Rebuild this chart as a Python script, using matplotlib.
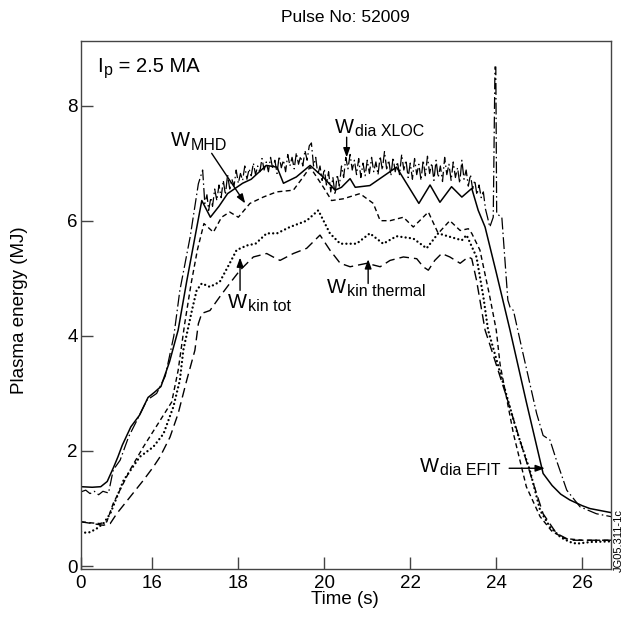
import matplotlib
matplotlib.use("Agg")
import matplotlib.pyplot as plt

plt.rcParams["font.family"] = ["Liberation Sans", "DejaVu Sans"]

# W_dia EFIT (solid)
efit_t = [14.34, 14.6, 14.8, 14.95, 15.1, 15.2, 15.3, 15.5, 15.7, 15.9, 16.05, 16.2,
          16.4, 16.6, 16.8, 17.0, 17.15, 17.35, 17.55, 17.75, 18.1, 18.3, 18.65, 18.9,
          19.05, 19.35, 19.67, 19.97, 20.25, 20.4, 20.6, 20.72, 21.06, 21.68, 22.2,
          22.46, 22.69, 22.96, 23.2, 23.43, 23.58, 23.74, 24.0, 24.32, 24.7, 25.09,
          25.3, 25.5, 25.71, 26.0, 26.18, 26.67]
efit_w = [1.38, 1.37, 1.38, 1.47, 1.72, 1.9, 2.1, 2.42, 2.62, 2.93, 3.02, 3.12,
          3.55, 4.1, 4.95, 5.75, 6.35, 6.06, 6.25, 6.47, 6.65, 6.72, 6.96, 6.93,
          6.65, 6.76, 6.96, 6.76, 6.53, 6.58, 6.73, 6.58, 6.61, 6.93, 6.3,
          6.62, 6.32, 6.59, 6.41, 6.56, 6.18, 5.89, 5.1, 4.1, 2.85, 1.61,
          1.4, 1.25, 1.15, 1.05, 1.0, 0.93]

# W_dia XLOC (dash-dot, noisy)
xloc_t = [14.34, 14.45, 14.55, 14.65, 14.75, 14.85, 14.98, 15.09, 15.25, 15.45, 15.64,
          15.87, 16.1, 16.3, 16.5, 16.64, 16.88, 17.07, 17.17,
          17.22, 17.27, 17.31, 17.36, 17.40, 17.45, 17.50, 17.55, 17.60, 17.65, 17.70,
          17.75, 17.80, 17.85, 17.90, 17.95, 18.00, 18.05, 18.10, 18.15, 18.20, 18.25,
          18.30, 18.35, 18.40, 18.45, 18.50, 18.55, 18.60, 18.65, 18.70, 18.75, 18.80,
          18.85, 18.90, 18.95, 19.00, 19.05, 19.10, 19.15, 19.20, 19.25, 19.30, 19.35,
          19.40, 19.45, 19.50, 19.55, 19.60, 19.65, 19.70, 19.75, 19.80, 19.85, 19.90,
          19.95, 20.00, 20.05, 20.10, 20.15, 20.20, 20.25, 20.30, 20.35, 20.40, 20.45,
          20.50, 20.55, 20.60, 20.65, 20.70, 20.75, 20.80, 20.85, 20.90, 20.95, 21.00,
          21.05, 21.10, 21.15, 21.20, 21.25, 21.30, 21.35, 21.40, 21.45, 21.50, 21.55,
          21.60, 21.65, 21.70, 21.75, 21.80, 21.85, 21.90, 21.95, 22.00, 22.05, 22.10,
          22.15, 22.20, 22.25, 22.30, 22.35, 22.40, 22.45, 22.50, 22.55, 22.60, 22.65,
          22.70, 22.75, 22.80, 22.85, 22.90, 22.95, 23.00, 23.05, 23.10, 23.15, 23.20,
          23.25, 23.30, 23.35, 23.40, 23.45, 23.50, 23.55, 23.60, 23.65, 23.70, 23.75,
          23.80, 23.85, 23.93, 23.97, 23.99, 24.01, 24.13, 24.27, 24.32, 24.40, 24.59,
          24.94, 25.09, 25.25, 25.40, 25.64, 25.95, 26.33, 26.67]
xloc_w = [1.29, 1.32, 1.26, 1.30, 1.24, 1.30, 1.27, 1.67, 1.84, 2.25, 2.53,
          2.88, 3.0, 3.3, 4.0, 4.79, 5.72, 6.64, 6.88,
          6.30, 6.45, 6.18, 6.40, 6.25, 6.55, 6.35, 6.62, 6.40, 6.70, 6.45,
          6.80, 6.55, 6.72, 6.60, 6.88, 6.65, 6.82, 6.70, 6.95, 6.72, 6.90,
          6.78, 7.00, 6.80, 6.95, 6.85, 7.08, 6.88, 7.02, 6.85, 7.10, 6.90,
          7.05, 6.82, 7.12, 6.92, 7.05, 6.85, 7.15, 6.95, 7.10, 6.90, 7.18,
          6.98, 7.12, 6.95, 7.22, 7.05, 7.30, 7.35, 6.95, 7.10, 6.80, 6.95,
          6.70, 6.90, 6.62, 6.85, 6.50, 6.75, 6.45, 6.80, 6.60, 6.95, 6.75,
          7.10, 6.90, 7.15, 6.88, 7.05, 6.80, 7.08, 6.75, 7.00, 6.78, 7.05,
          6.82, 7.10, 6.85, 7.02, 6.80, 7.12, 6.88, 7.20, 6.90, 7.05, 6.78,
          7.10, 6.85, 7.02, 6.80, 7.15, 6.88, 7.05, 6.75, 7.00, 6.72, 7.08,
          6.80, 6.98, 6.70, 7.05, 6.78, 7.12, 6.82, 7.00, 6.70, 7.05, 6.75,
          6.95, 6.68, 7.10, 6.80, 6.98, 6.70, 7.02, 6.75, 6.92, 6.65, 7.05,
          6.72, 6.88, 6.60, 6.80, 6.55, 6.70, 6.45, 6.62, 6.40, 6.50, 6.20,
          6.05, 5.89, 6.06, 8.67, 8.67, 6.12, 6.06, 4.62, 4.50, 4.44, 3.80,
          2.65, 2.27, 2.19, 1.84, 1.32, 1.03, 0.91, 0.86]

# W_MHD (short dash)
mhd_t = [14.34, 14.6, 14.78, 14.94, 15.09, 15.3, 15.48, 15.79, 16.18, 16.45, 16.6,
         16.75, 16.9, 17.05, 17.2, 17.42, 17.61, 17.8, 18.0, 18.27, 18.58, 18.89,
         19.28, 19.51, 19.67, 19.98, 20.17, 20.44, 20.83, 21.14, 21.3, 21.53, 21.84,
         22.07, 22.42, 22.65, 22.92, 23.16, 23.35, 23.43, 23.62, 23.85, 24.0, 24.09,
         24.4, 24.7, 25.02, 25.3, 25.6, 26.0, 26.67]
mhd_w = [0.77, 0.75, 0.74, 0.77, 1.09, 1.4, 1.67, 2.07, 2.53, 2.85, 3.4,
         4.2, 4.9, 5.5, 5.95, 5.8, 6.06, 6.15, 6.06, 6.3, 6.41, 6.5,
         6.53, 6.76, 6.93, 6.58, 6.35, 6.38, 6.47, 6.3, 6.0, 6.0, 6.06,
         5.89, 6.15, 5.78, 6.0, 5.83, 5.86, 5.78, 5.49, 4.68, 4.1, 3.5,
         2.3, 1.38, 0.86, 0.6, 0.48, 0.45, 0.45]

# W_kin tot (dotted)
tot_t = [14.34, 14.45, 14.55, 14.7, 14.86, 15.02, 15.33, 15.71, 16.02, 16.26, 16.49,
         16.64, 16.72, 16.92, 17.03, 17.15, 17.34, 17.57, 17.8, 17.96, 18.2, 18.4,
         18.66, 18.9, 19.2, 19.59, 19.86, 20.13, 20.37, 20.75, 21.06, 21.37, 21.68,
         22.07, 22.38, 22.65, 22.92, 23.2, 23.31, 23.54, 23.7, 23.81, 24.0, 24.47,
         24.78, 25.02, 25.25, 25.5, 25.71, 25.87, 26.2, 26.67]
tot_w = [0.6, 0.58, 0.59, 0.65, 0.74, 0.91, 1.49, 1.9, 2.07, 2.3, 2.77,
         3.23, 3.75, 4.44, 4.79, 4.91, 4.85, 4.94, 5.26, 5.49, 5.57, 5.6,
         5.78, 5.78, 5.89, 6.0, 6.18, 5.78, 5.6, 5.6, 5.78, 5.6, 5.73,
         5.69, 5.52, 5.78, 5.72, 5.66, 5.75, 5.37, 4.68, 4.1, 3.6, 2.36,
         1.67, 0.97, 0.68, 0.5, 0.42, 0.39, 0.42, 0.43]

# W_kin thermal (long dash)
th_t = [14.34, 14.6, 14.86, 15.02, 15.17, 15.48, 15.79, 16.02, 16.18, 16.41, 16.6,
        16.8, 16.99, 17.07, 17.15, 17.34, 17.57, 17.8, 18.04, 18.35, 18.66, 18.81,
        18.97, 19.28, 19.59, 19.9, 20.13, 20.37, 20.6, 20.99, 21.3, 21.53, 21.84,
        22.15, 22.3, 22.42, 22.57, 22.73, 22.92, 23.16, 23.35, 23.43, 23.54, 23.74,
        23.85, 24.24, 24.55, 24.86, 25.09, 25.4, 25.71, 26.67]
th_w = [0.77, 0.74, 0.71, 0.74, 0.91, 1.2, 1.49, 1.72, 1.9, 2.24, 2.65,
        3.23, 3.75, 4.21, 4.39, 4.44, 4.68, 4.91, 5.14, 5.37, 5.43, 5.37,
        5.31, 5.43, 5.52, 5.75, 5.49, 5.26, 5.2, 5.26, 5.2, 5.31, 5.37,
        5.34, 5.2, 5.14, 5.31, 5.43, 5.37, 5.26, 5.37, 5.34, 4.97, 4.1,
        3.85, 2.94, 2.19, 1.44, 0.91, 0.57, 0.45, 0.45]

x_ticks = [14.34, 16, 18, 20, 22, 24, 26]
x_labels = ["0", "16", "18", "20", "22", "24", "26"]
y_ticks = [0, 2, 4, 6, 8]

FS = 14.5
SUB_FS = 11.5


def sub_label(ax, x, y, main, sub, rest=None):
    t = ax.text(x, y, main, fontsize=FS, va="baseline")
    s = ax.annotate(sub, xy=(1, 0), xycoords=t, xytext=(0.8, 0.6),
                    textcoords="offset points", fontsize=SUB_FS, va="baseline")
    if rest is not None:
        ax.annotate(rest, xy=(1, 0), xycoords=(s, t), fontsize=FS, va="bottom")


fig = plt.figure(figsize=(6.24, 6.21), dpi=100)
ax = fig.add_axes([0.1298, 0.0837, 0.8494, 0.8502])

ax.plot(efit_t, efit_w, color="k", lw=1.1)
ax.plot(xloc_t, xloc_w, color="k", lw=0.9, ls=(0, (9.5, 2.5, 1.2, 2.5)))
ax.plot(mhd_t, mhd_w, color="k", lw=1.0, ls=(0, (3.6, 2.4)))
ax.plot(tot_t, tot_w, color="k", lw=1.7, ls=(0, (0.01, 1.8)), dash_capstyle="round")
ax.plot(th_t, th_w, color="k", lw=1.0, ls=(0, (7, 3.6)))

ax.set_xlim(14.34, 26.67)
ax.set_ylim(-0.05, 9.12)
ax.set_xticks(x_ticks)
ax.set_xticklabels(x_labels)
ax.set_yticks(y_ticks)
ax.tick_params(direction="in", length=8.5, width=1, labelsize=13.5, color="#444444")
ax.tick_params(axis="x", pad=4.3)
ax.tick_params(axis="y", pad=2.2)
for s in ax.spines.values():
    s.set_linewidth(1.0)
    s.set_color("#444444")

arrow = dict(arrowstyle="-|>,head_length=0.55,head_width=0.2", color="k", lw=1.0,
             shrinkA=0, shrinkB=0)

sub_label(ax, 14.71, 8.58, "I", "p", " = 2.5 MA")
sub_label(ax, 16.43, 7.29, "W", "MHD")
ax.annotate("", xy=(18.16, 6.30), xytext=(17.38, 7.17), arrowprops=arrow)
sub_label(ax, 20.25, 7.52, "W", "dia XLOC")
ax.annotate("", xy=(20.52, 7.10), xytext=(20.52, 7.45), arrowprops=arrow)
sub_label(ax, 17.76, 4.48, "W", "kin tot")
ax.annotate("", xy=(18.04, 5.36), xytext=(18.04, 4.79), arrowprops=arrow)
sub_label(ax, 20.06, 4.74, "W", "kin thermal")
ax.annotate("", xy=(21.02, 5.33), xytext=(21.02, 4.91), arrowprops=arrow)
sub_label(ax, 22.22, 1.63, "W", "dia EFIT")
ax.annotate("", xy=(25.13, 1.70), xytext=(24.3, 1.70), arrowprops=arrow)

fig.text(345 / 624, 1 - 18 / 621, "Pulse No: 52009", fontsize=12.5, ha="center", va="center")
fig.text(345 / 624, 1 - 600 / 621, "Time (s)", fontsize=13.5, ha="center", va="center")
fig.text(20 / 624, 1 - 310 / 621, "Plasma energy (MJ)", fontsize=13.5, ha="center",
         va="center", rotation=90)
fig.text(618.5 / 624, 1 - 540 / 621, "JG05.311-1c", fontsize=8, ha="center",
         va="center", rotation=90)

fig.savefig("out.png", dpi=100)
